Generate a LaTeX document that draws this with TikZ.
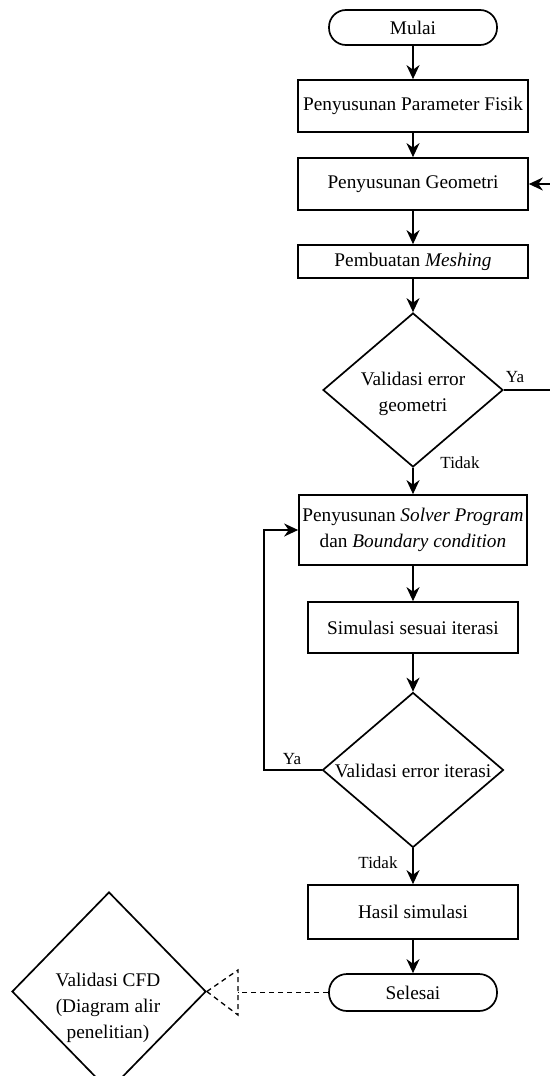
\documentclass[tikz,border=0pt]{standalone}
\usepackage{fontspec}
\setmainfont{Liberation Serif}
\usetikzlibrary{arrows.meta,shapes.geometric}
\begin{document}
\begin{tikzpicture}[x=1pt,y=-1pt, line width=1.7pt,
  every node/.style={font=\fontsize{19.3}{26}\selectfont},
  proc/.style={draw, rectangle, inner sep=0pt, align=center},
  term/.style={draw, rectangle, rounded corners=17pt, inner sep=0pt},
  dec/.style={draw, diamond, inner sep=0pt},
  lbl/.style={font=\fontsize{17}{20}\selectfont, inner sep=0pt},
  arr/.style={-{Stealth[length=14pt,width=13pt,inset=4.5pt]}},
  dsh/.style={line width=1.3pt, dash pattern=on 5pt off 4pt}]
\useasboundingbox[fill=white] (0,0) rectangle (549,1076);

\node[term, minimum width=168pt, minimum height=35pt] (mulai) at (413,27.5) {Mulai};
\node[proc, minimum width=230pt, minimum height=52pt] (b1) at (413,106) {Penyusunan Parameter Fisik};
\node[proc, minimum width=230pt, minimum height=52pt] (b2) at (413,184) {Penyusunan Geometri};
\node[proc, minimum width=230pt, minimum height=33pt] (b3) at (413,261.5) {Pembuatan \textit{Meshing}};
\node[dec, minimum width=180pt, minimum height=154pt] (d1) at (413,390) {};
\node[align=center] (d1t) at (413,394) {Validasi error\\geometri};
\node[lbl] (ya1) at (515,377) {Ya};
\node[lbl] (td1) at (460,463) {Tidak};
\node[proc, minimum width=228pt, minimum height=70pt] (b4) at (413,530) {Penyusunan \textit{Solver Program}\\dan \textit{Boundary condition}};
\node[proc, minimum width=210pt, minimum height=51pt] (b5) at (413,627.5) {Simulasi sesuai iterasi};
\node[dec, minimum width=181pt, minimum height=155pt] (d2) at (413,770) {};
\node (d2t) at (413,771) {Validasi error iterasi};
\node[lbl] (ya2) at (292,759) {Ya};
\node[lbl] (td2) at (378,863) {Tidak};
\node[proc, minimum width=210pt, minimum height=54pt] (b6) at (413,912) {Hasil simulasi};
\node[term, minimum width=168pt, minimum height=37pt, rounded corners=18pt] (sel) at (413,992.5) {Selesai};
\node[dec, minimum width=194pt, minimum height=199pt] (cfd) at (109,991.5) {};
\node[align=center] (cfdt) at (108,1008) {Validasi CFD\\(Diagram alir\\penelitian)};

\draw[arr] (mulai) -- (b1);
\draw[arr] (b1) -- (b2);
\draw[arr] (b2) -- (b3);
\draw[arr] (b3) -- (d1);
\draw[arr] (d1.east) -- (562,390) -- (562,184) -- (b2.east);
\draw[arr] (d1) -- (b4);
\draw[arr] (b4) -- (b5);
\draw[arr] (b5) -- (d2);
\draw[arr] (d2.west) -- (264,770) -- (264,530) -- (b4.west);
\draw[arr] (d2) -- (b6);
\draw[arr] (b6) -- (sel);
\coordinate (tb) at (238,992.5);
\draw[dsh] (sel.west) -- (tb);
\draw[dsh] (cfd.east) -- (238,970) -- (238,1015) -- cycle;
\end{tikzpicture}
\end{document}
